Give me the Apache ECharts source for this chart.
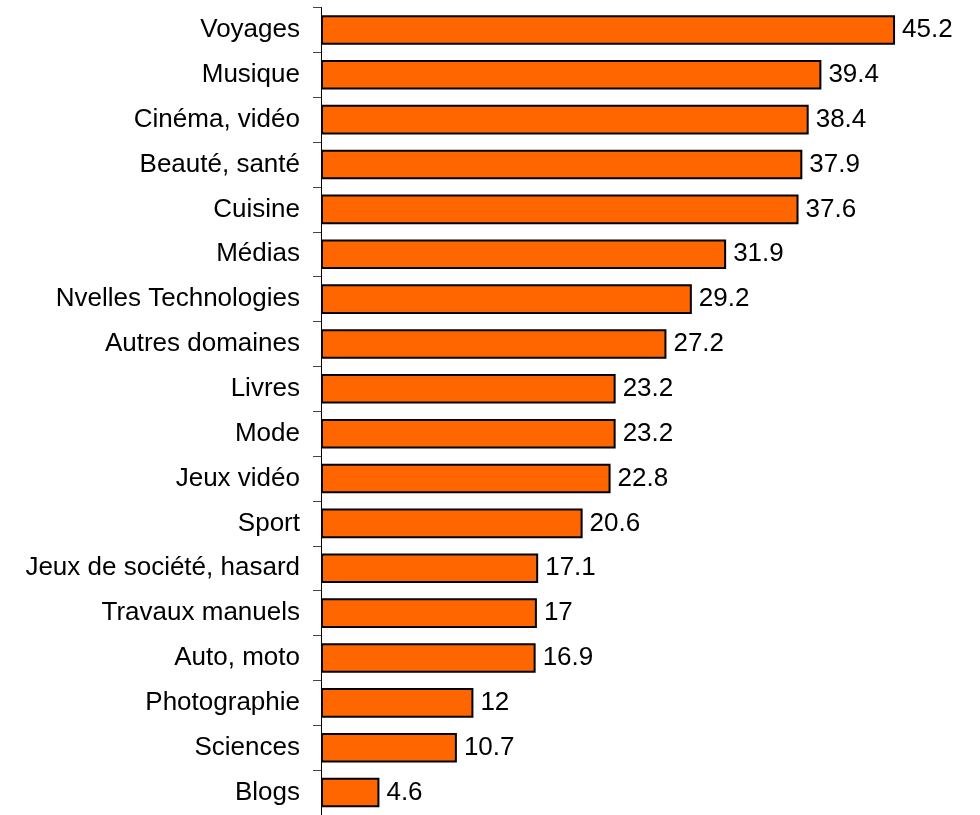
<!DOCTYPE html>
<html><head><meta charset="utf-8">
<script src="https://cdn.jsdelivr.net/npm/echarts@6/dist/echarts.min.js"></script>
<style>html,body{margin:0;padding:0;background:#fff}#c{width:980px;height:815px}</style>
</head><body><div id="c"></div>
<script>
const categories = ["Voyages","Musique","Cinéma, vidéo","Beauté, santé","Cuisine","Médias","Nvelles Technologies","Autres domaines","Livres","Mode","Jeux vidéo","Sport","Jeux de société, hasard","Travaux manuels","Auto, moto","Photographie","Sciences","Blogs"];
const values = [45.2,39.4,38.4,37.9,37.6,31.9,29.2,27.2,23.2,23.2,22.8,20.6,17.1,17,16.9,12,10.7,4.6];
const chart = echarts.init(document.getElementById('c'), null, {renderer:'canvas'});
chart.setOption({
  animation:false,
  grid:{left:321,top:7.5,width:635,height:811},
  xAxis:{type:'value',min:0,max:50,show:false},
  yAxis:{type:'category',data:categories,inverse:true,
    axisLine:{show:true,lineStyle:{color:'#000',width:1}},
    axisTick:{show:true,length:8,lineStyle:{color:'#444'}},
    axisLabel:{fontFamily:'Liberation Sans, Arial, sans-serif',fontSize:26,color:'#000',margin:21}},
  series:[{type:'bar',data:values,barWidth:'66%',
    itemStyle:{color:'#FF6600',borderColor:'#000',borderWidth:2},
    label:{show:true,position:'right',distance:7,fontFamily:'Liberation Sans, Arial, sans-serif',fontSize:26,color:'#000'}}]
});
</script></body></html>
